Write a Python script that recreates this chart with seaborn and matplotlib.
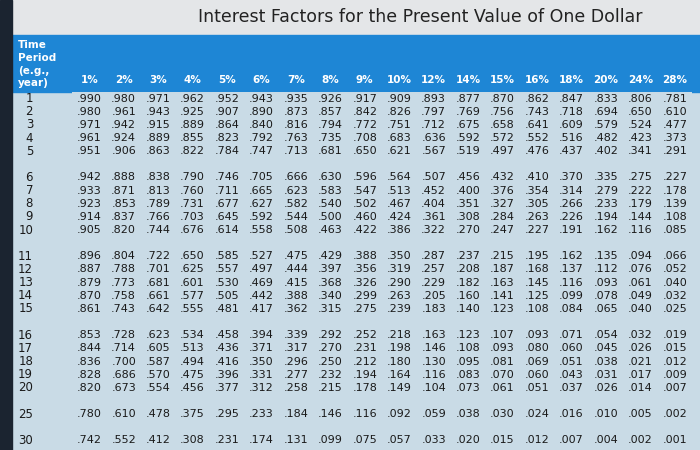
import numpy as np
import pandas as pd
import matplotlib
matplotlib.use("Agg")
import matplotlib.pyplot as plt
from matplotlib.colors import ListedColormap
from matplotlib.patches import Rectangle
import seaborn as sns

rates = ["1%","2%","3%","4%","5%","6%","7%","8%","9%","10%","12%","14%","15%","16%","18%","20%","24%","28%"]
periods = [1,2,3,4,5,6,7,8,9,10,11,12,13,14,15,16,17,18,19,20,25,30]
v1  = [.990,.980,.971,.962,.952,.943,.935,.926,.917,.909,.893,.877,.870,.862,.847,.833,.806,.781]
v2  = [.980,.961,.943,.925,.907,.890,.873,.857,.842,.826,.797,.769,.756,.743,.718,.694,.650,.610]
v3  = [.971,.942,.915,.889,.864,.840,.816,.794,.772,.751,.712,.675,.658,.641,.609,.579,.524,.477]
v4  = [.961,.924,.889,.855,.823,.792,.763,.735,.708,.683,.636,.592,.572,.552,.516,.482,.423,.373]
v5  = [.951,.906,.863,.822,.784,.747,.713,.681,.650,.621,.567,.519,.497,.476,.437,.402,.341,.291]
v6  = [.942,.888,.838,.790,.746,.705,.666,.630,.596,.564,.507,.456,.432,.410,.370,.335,.275,.227]
v7  = [.933,.871,.813,.760,.711,.665,.623,.583,.547,.513,.452,.400,.376,.354,.314,.279,.222,.178]
v8  = [.923,.853,.789,.731,.677,.627,.582,.540,.502,.467,.404,.351,.327,.305,.266,.233,.179,.139]
v9  = [.914,.837,.766,.703,.645,.592,.544,.500,.460,.424,.361,.308,.284,.263,.226,.194,.144,.108]
v10 = [.905,.820,.744,.676,.614,.558,.508,.463,.422,.386,.322,.270,.247,.227,.191,.162,.116,.085]
v11 = [.896,.804,.722,.650,.585,.527,.475,.429,.388,.350,.287,.237,.215,.195,.162,.135,.094,.066]
v12 = [.887,.788,.701,.625,.557,.497,.444,.397,.356,.319,.257,.208,.187,.168,.137,.112,.076,.052]
v13 = [.879,.773,.681,.601,.530,.469,.415,.368,.326,.290,.229,.182,.163,.145,.116,.093,.061,.040]
v14 = [.870,.758,.661,.577,.505,.442,.388,.340,.299,.263,.205,.160,.141,.125,.099,.078,.049,.032]
v15 = [.861,.743,.642,.555,.481,.417,.362,.315,.275,.239,.183,.140,.123,.108,.084,.065,.040,.025]
v16 = [.853,.728,.623,.534,.458,.394,.339,.292,.252,.218,.163,.123,.107,.093,.071,.054,.032,.019]
v17 = [.844,.714,.605,.513,.436,.371,.317,.270,.231,.198,.146,.108,.093,.080,.060,.045,.026,.015]
v18 = [.836,.700,.587,.494,.416,.350,.296,.250,.212,.180,.130,.095,.081,.069,.051,.038,.021,.012]
v19 = [.828,.686,.570,.475,.396,.331,.277,.232,.194,.164,.116,.083,.070,.060,.043,.031,.017,.009]
v20 = [.820,.673,.554,.456,.377,.312,.258,.215,.178,.149,.104,.073,.061,.051,.037,.026,.014,.007]
v25 = [.780,.610,.478,.375,.295,.233,.184,.146,.116,.092,.059,.038,.030,.024,.016,.010,.005,.002]
v30 = [.742,.552,.412,.308,.231,.174,.131,.099,.075,.057,.033,.020,.015,.012,.007,.004,.002,.001]
rows = [v1,v2,v3,v4,v5,v6,v7,v8,v9,v10,v11,v12,v13,v14,v15,v16,v17,v18,v19,v20,v25,v30]

gap_after = {5, 10, 15, 20, 25}
data, labels, ylabels = [], [], []
for p, r in zip(periods, rows):
    data.append(r)
    labels.append([("%.3f" % x)[1:] for x in r])
    ylabels.append(str(p))
    if p in gap_after:
        data.append([np.nan]*len(rates))
        labels.append([""]*len(rates))
        ylabels.append("")
df = pd.DataFrame(data, columns=rates)
annot = np.array(labels)

W, H = 700, 450
body = "#c9dbe6"
fig = plt.figure(figsize=(7, 4.5), dpi=100)
fig.patch.set_facecolor(body)
fig.patches.append(Rectangle((0, 1-35/H), 1, 35/H, transform=fig.transFigure, color="#e4e6e8", zorder=-2))
fig.patches.append(Rectangle((12/W, 1-92/H), 1, (92-35)/H, transform=fig.transFigure, color="#1e86d5", zorder=-2))
fig.patches.append(Rectangle((0, 0), 12/W, 1, transform=fig.transFigure, color="#1b2430", zorder=-1))
fig.text(420/W, 1-17/H, "Interest Factors for the Present Value of One Dollar",
         ha="center", va="center", fontsize=12.5, color="#222222")
fig.text(18/W, 1-40/H, "Time\nPeriod\n(e.g.,\nyear)", ha="left", va="top",
         fontsize=7.5, color="white", fontweight="bold", linespacing=1.35)

ax = fig.add_axes([72/W, 3/H, 620/W, (450-92-3)/H])
ax.set_facecolor(body)
sns.heatmap(df, ax=ax, cmap=ListedColormap([body]), cbar=False, annot=annot, fmt="",
            annot_kws={"fontsize": 8, "color": "#1a1a1a"}, mask=df.isna())
ax.xaxis.tick_top()
ax.xaxis.set_label_position("top")
ax.set_xticks(np.arange(len(rates)) + 0.5)
ax.set_xticklabels(rates, color="white", fontsize=7.5, fontweight="bold")
ax.tick_params(axis="x", length=0, pad=5, labeltop=True, labelbottom=False)
ax.set_yticks(np.arange(len(ylabels)) + 0.5)
ax.set_yticklabels(ylabels, rotation=0, fontsize=8.5, color="#1a1a1a")
ax.tick_params(axis="y", length=0, pad=28)
for t in ax.get_yticklabels():
    t.set_ha("right")
ax.set_xlabel("")
ax.set_ylabel("")
fig.savefig("out.png", dpi=100, facecolor=fig.get_facecolor())
